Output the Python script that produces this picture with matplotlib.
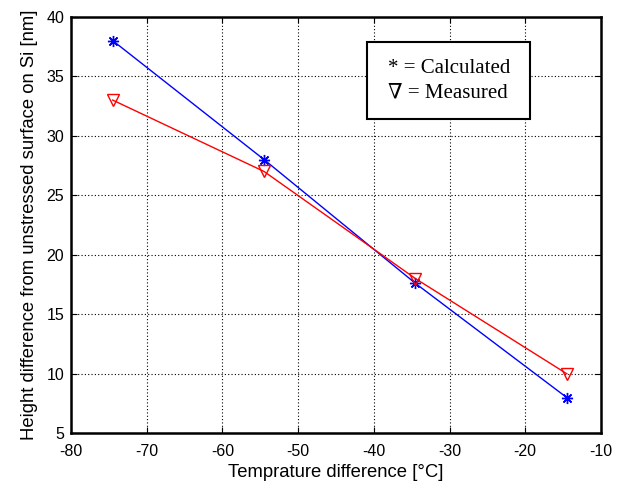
import numpy as np
import matplotlib
matplotlib.use('Agg')
import matplotlib.pyplot as plt
from matplotlib.patches import Rectangle

# data
temp_diff = [-74.5, -54.5, -34.5, -14.5]
calculated = [38, 28, 17.6, 8]
measured = [33, 27, 18, 10]
x_ticks = [-80, -70, -60, -50, -40, -30, -20, -10]
y_ticks = [5, 10, 15, 20, 25, 30, 35, 40]

plt.rcParams['font.family'] = ['Liberation Sans', 'DejaVu Sans']
plt.rcParams['axes.unicode_minus'] = False

fig = plt.figure(figsize=(6.26, 4.88), dpi=100)
ax = fig.add_axes([0.1134, 0.112, 0.8466, 0.8537])

ax.plot(temp_diff, calculated, color='blue', lw=1, marker=(8, 2, 0), ms=8,
        markeredgewidth=1)
ax.plot(temp_diff, measured, color='red', lw=1, marker='v', ms=8.5,
        markerfacecolor='none', markeredgewidth=1)

ax.set_xlim(-80, -10)
ax.set_ylim(5, 40)
ax.set_xticks(x_ticks)
ax.set_yticks(y_ticks)
ax.tick_params(direction='in', top=True, right=True, labelsize=11.5, length=4)
ax.tick_params(axis='x', pad=8)
ax.tick_params(axis='y', pad=5)
ax.grid(True, color='black', linestyle=(0, (1, 2)), linewidth=0.8)
for sp in ax.spines.values():
    sp.set_linewidth(1.8)

ax.set_xlabel('Temprature difference [°C]', fontsize=13.3, labelpad=3)
ax.set_ylabel('Height difference from unstressed surface on Si [nm]', fontsize=13.3,
              labelpad=6)

# annotation box
ax.add_patch(Rectangle((0.558, 0.754), 0.308, 0.185, transform=ax.transAxes,
                       facecolor='white', edgecolor='black', linewidth=1.5,
                       zorder=5))
serif = ['Liberation Serif', 'DejaVu Serif']
ax.text(0.598, 0.865, '* = Calculated', transform=ax.transAxes, fontsize=15,
        family=serif, va='baseline', zorder=6)
ax.text(0.598, 0.805, '\u2207 = Measured', transform=ax.transAxes, fontsize=15,
        family=serif, va='baseline', zorder=6)

fig.savefig('out.png', dpi=100)
